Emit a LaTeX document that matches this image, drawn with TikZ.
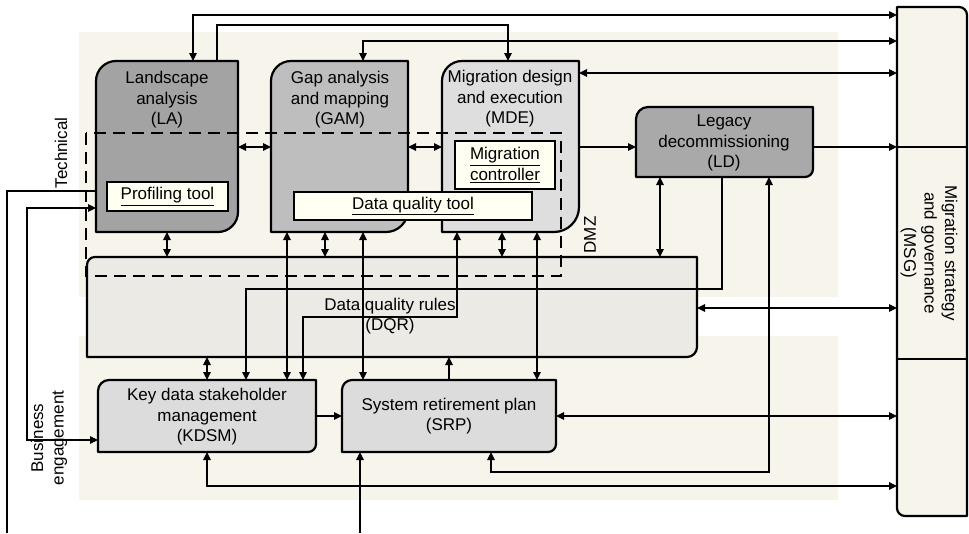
\documentclass[tikz,border=0pt]{standalone}
\usepackage{fontspec}
\setmainfont{Liberation Sans}
\usetikzlibrary{arrows.meta}
\definecolor{panel}{HTML}{F7F4EC}
\definecolor{laC}{HTML}{A3A3A3}
\definecolor{gamC}{HTML}{BEBEBE}
\definecolor{mdeC}{HTML}{DEDEDE}
\definecolor{ldC}{HTML}{A9A9A9}
\definecolor{dqrC}{HTML}{EBEAE5}
\definecolor{lowC}{HTML}{DCDCDC}
\definecolor{toolC}{HTML}{FFFFF2}
\newcommand{\tlbrbox}[4]{\draw[boxline, fill=#4] (#1.south west) -- ([yshift=-#2pt]#1.north west) arc[start angle=180,end angle=90,radius=#2pt] -- (#1.north east) -- ([yshift=#3pt]#1.south east) arc[start angle=0,end angle=-90,radius=#3pt] -- cycle;}
\begin{document}
\begin{tikzpicture}[x=1pt,y=1pt,
  boxline/.style={line width=2.2pt, draw=black, line join=round},
  ghost/.style={inner sep=0pt, outer sep=0pt, anchor=north west},
  conn/.style={line width=1.2pt, draw=black},
  arr/.style={conn, -{Triangle[length=8pt,width=7.5pt]}},
  darr/.style={conn, {Triangle[length=8pt,width=7.5pt]}-{Triangle[length=8pt,width=7.5pt]}},
  txt/.style={font=\fontsize{17}{20.5}\selectfont, align=center, inner sep=0pt},
  tool/.style={draw, line width=1.3pt, fill=toolC, inner sep=0pt, outer sep=0pt, anchor=north west, font=\fontsize{17}{20.5}\selectfont, align=center},
  dmz/.style={line width=2.6pt, dash pattern=on 12pt off 7pt}
]
\useasboundingbox (0,0) rectangle (969,-533);
% panels
\fill[panel] (79,-32) rectangle (838,-297);
\fill[panel] (79,-336) rectangle (838,-500);
% guide coordinates
\foreach \v in {7,27,167,193,207,217,246,287,303,325,360,363,449,457,491,502,508,537,660,722,769} {\coordinate (v\v) at (\v,0);}
\foreach \h in {15,25,41,73,147,191,208,289,308,317,359,416,440,472,486} {\coordinate (h\h) at (0,-\h);}
% box nodes
\node[ghost, minimum width=142pt, minimum height=171pt] (LA) at (96,-61) {};
\node[ghost, minimum width=137pt, minimum height=171pt] (GAM) at (271,-61) {};
\node[ghost, minimum width=137pt, minimum height=171pt] (MDE) at (442,-61) {};
\node[ghost, minimum width=177pt, minimum height=70pt] (LD) at (636,-107) {};
\node[ghost, minimum width=610pt, minimum height=100pt] (DQR) at (87,-257) {};
\node[ghost, minimum width=218pt, minimum height=72pt] (KDSM) at (98,-380) {};
\node[ghost, minimum width=214pt, minimum height=72pt] (SRP) at (342,-380) {};
\node[ghost, minimum width=70pt, minimum height=509pt] (MSG) at (897,-7) {};
% box shapes
\tlbrbox{LA}{20}{20}{laC}
\tlbrbox{GAM}{20}{22}{gamC}
\tlbrbox{MDE}{20}{25}{mdeC}
\tlbrbox{LD}{12}{8}{ldC}
\tlbrbox{DQR}{8}{10}{dqrC}
\tlbrbox{KDSM}{11}{8}{lowC}
\tlbrbox{SRP}{10}{8}{lowC}
\draw[boxline, fill=panel] (MSG.north west) -- ([xshift=-8pt]MSG.north east) arc[start angle=90,end angle=0,radius=8pt] -- (MSG.south east) -- ([xshift=8pt]MSG.south west) arc[start angle=-90,end angle=-180,radius=8pt] -- cycle;
\draw[boxline] (h147 -| MSG.west) -- (h147 -| MSG.east);
\draw[boxline] (h359 -| MSG.west) -- (h359 -| MSG.east);
% DMZ boundary
\draw[dmz] (86,-133) rectangle (561,-276);
% tool boxes
\node[tool, minimum width=121pt, minimum height=29pt] (PT) at (107,-182) {\underline{Profiling tool}};
\node[tool, minimum width=238pt, minimum height=28pt] (DQT) at (294,-192) {\underline{Data quality tool}};
\node[tool, minimum width=100pt, minimum height=48pt] (MC) at (455,-141) {\underline{Migration}\\\underline{controller}};
% texts
\node[txt] (LAt) at (167,-100) {Landscape\\analysis\\(LA)};
\node[txt] (GAMt) at (340,-100) {Gap analysis\\and mapping\\(GAM)};
\node[txt] (MDEt) at (510,-99) {Migration design\\and execution\\(MDE)};
\node[txt] (LDt) at (724,-143) {Legacy\\decommissioning\\(LD)};
\node[txt] (DQRt) at (390,-316) {Data quality rules\\(DQR)};
\node[txt] (KDSMt) at (207,-417) {Key data stakeholder\\management\\(KDSM)};
\node[txt] (SRPt) at (449,-416) {System retirement plan\\(SRP)};
\node[txt, rotate=-90] (MSGt) at (929,-253) {Migration strategy\\and governance\\(MSG)};
\node[txt, rotate=90] (TECH) at (61,-153) {Technical};
\node[txt, rotate=90] (BUS) at (49,-438) {Business\\engagement};
\node[txt, rotate=90] (DMZt) at (590,-235) {DMZ};
% connectors
\draw[darr] (v193 |- LA.north) |- (h15 -| MSG.west);
\draw[arr] (v217 |- LA.north) -- (v217 |- h25) -| (v508 |- MDE.north);
\draw[darr] (v363 |- GAM.north) |- (h41 -| MSG.west);
\draw[darr] (h73 -| MDE.east) -- (h73 -| MSG.west);
\draw[arr] (h147 -| MDE.east) -- (h147 -| LD.west);
\draw[arr] (h147 -| LD.east) -- (h147 -| MSG.west);
\draw[darr] (h147 -| LA.east) -- (h147 -| GAM.west);
\draw[darr] (h147 -| GAM.east) -- (h147 -| MDE.west);
\draw[darr] (v167 |- LA.south) -- (v167 |- DQR.north);
\draw[darr] (v325 |- GAM.south) -- (v325 |- DQR.north);
\draw[darr] (v287 |- GAM.south) -- (v287 |- KDSM.north);
\draw[darr] (v363 |- GAM.south) -- (v363 |- SRP.north);
\draw[darr] (v457 |- MDE.south) |- (h317 -| v303) -- (v303 |- KDSM.north);
\draw[darr] (v502 |- MDE.south) -- (v502 |- DQR.north);
\draw[darr] (v537 |- MDE.south) -- (v537 |- SRP.north);
\draw[arr] (v722 |- LD.south) |- (h289 -| v246) -- (v246 |- KDSM.north);
\draw[darr] (v769 |- LD.south) |- (h472 -| v491) -- (v491 |- SRP.south);
\draw[darr] (v660 |- LD.south) -- (v660 |- DQR.north);
\draw[darr] (h308 -| DQR.east) -- (h308 -| MSG.west);
\draw[darr] (h416 -| SRP.east) -- (h416 -| MSG.west);
\draw[darr] (v207 |- KDSM.south) |- (h486 -| MSG.west);
\draw[arr] (v449 |- SRP.north) -- (v449 |- DQR.south);
\draw[darr] (v207 |- DQR.south) -- (v207 |- KDSM.north);
\draw[arr] (h416 -| KDSM.east) -- (h416 -| SRP.west);
\coordinate (exitA) at (7,-533);
\draw[conn] (h191 -| LA.west) -| (exitA);
\draw[darr] (h208 -| LA.west) -| (v27 |- h440) -- (h440 -| KDSM.west);
\coordinate (inB) at (360,-533);
\draw[arr] (inB) -- (v360 |- SRP.south);
\end{tikzpicture}
\end{document}
